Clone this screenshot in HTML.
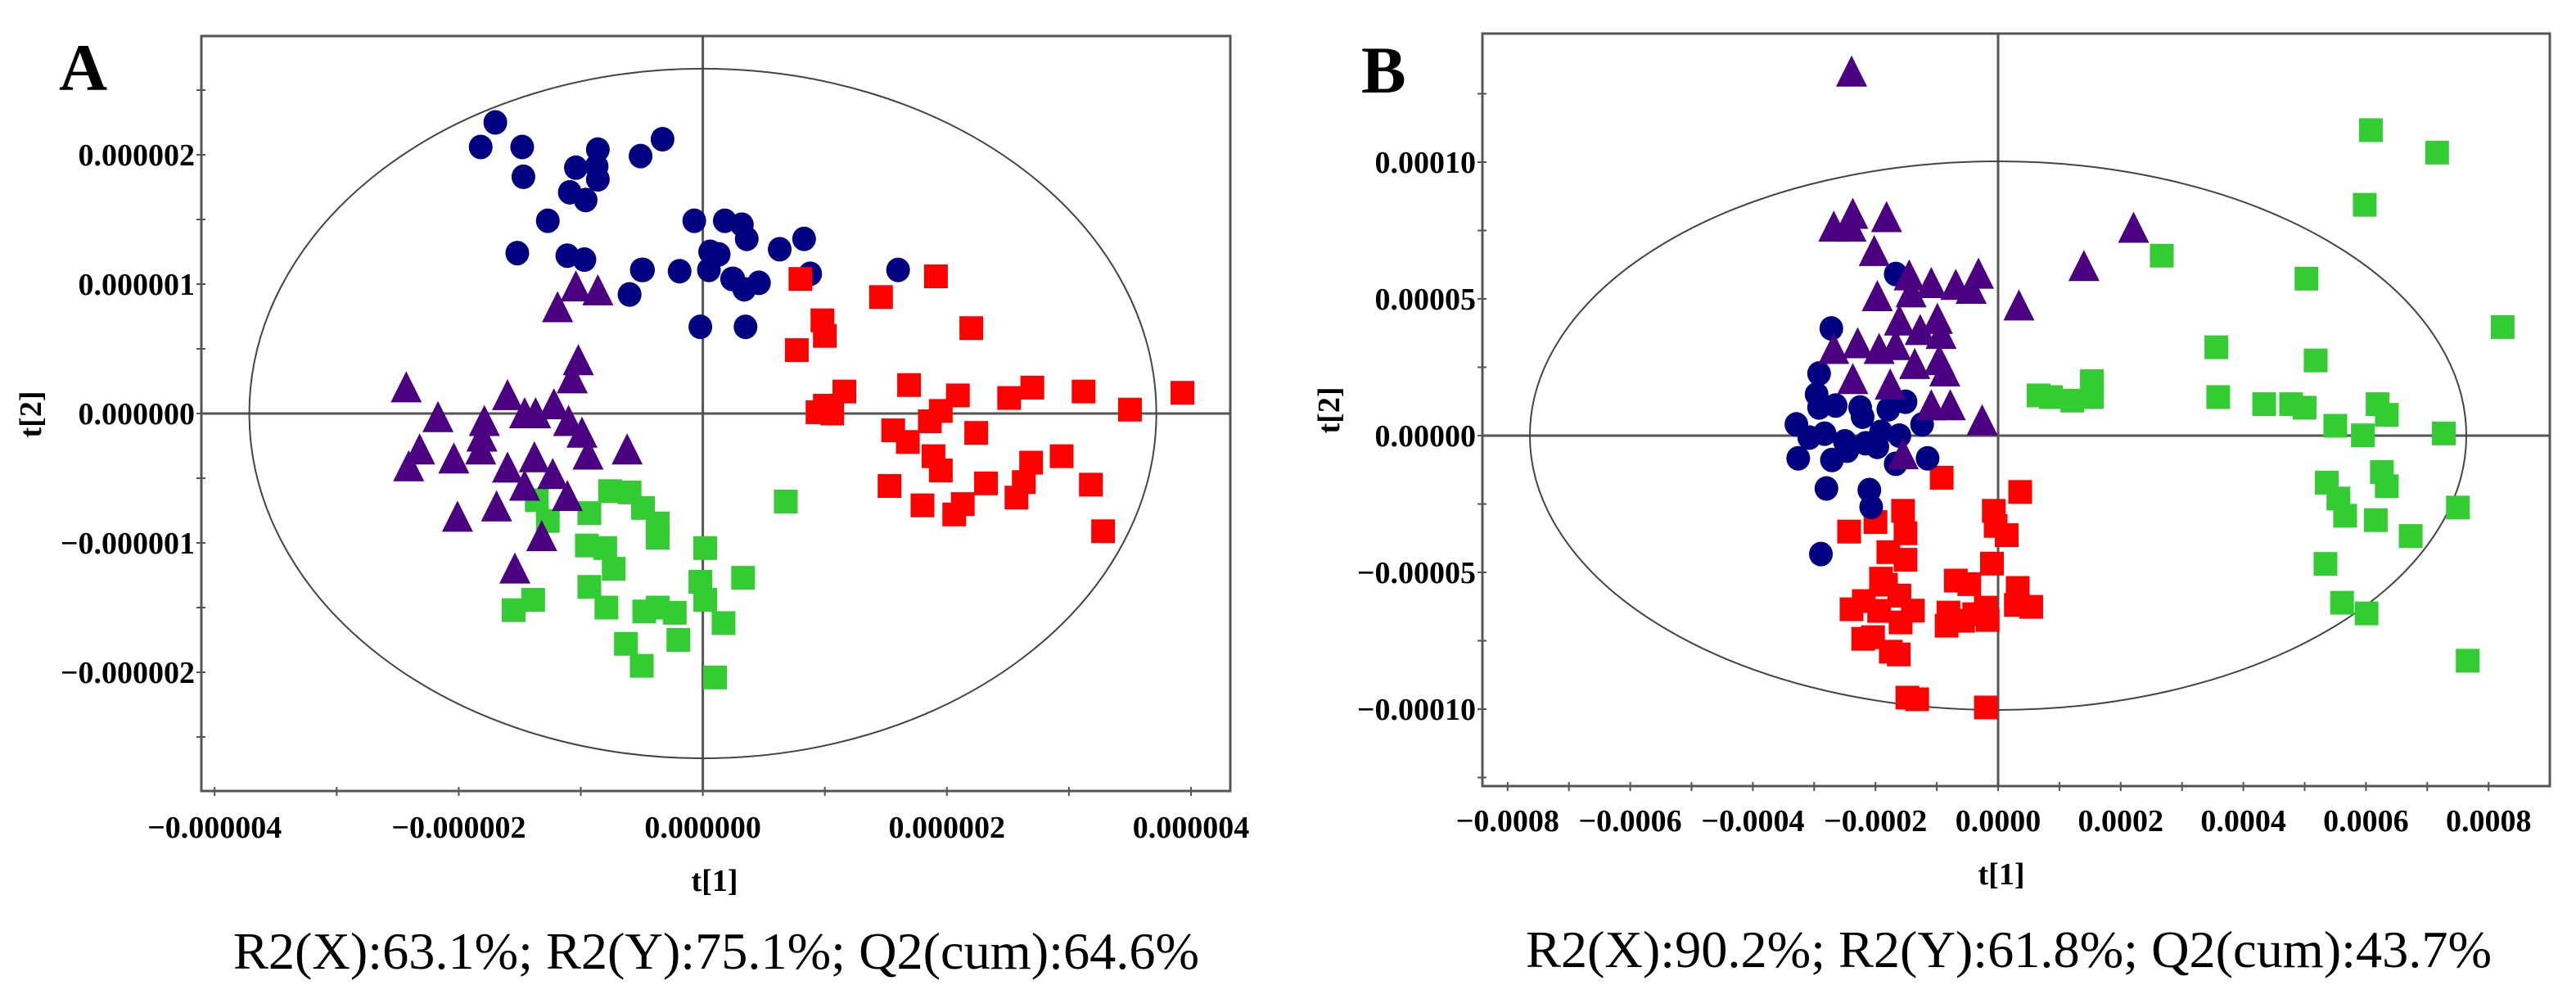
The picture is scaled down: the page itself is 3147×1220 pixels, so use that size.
<!DOCTYPE html>
<html><head><meta charset="utf-8">
<style>
html,body{margin:0;padding:0;background:#fff;}
svg{display:block;}
.tick{font-family:"Liberation Serif",serif;font-weight:bold;font-size:38px;fill:#000;}
.axt{font-family:"Liberation Serif",serif;font-weight:bold;font-size:38px;fill:#000;}
.cap{font-family:"Liberation Serif",serif;font-size:64px;fill:#000;}
.pl{font-family:"Liberation Serif",serif;font-weight:bold;font-size:82px;fill:#000;}
</style></head>
<body>
<svg id="fig" width="3147" height="1220" viewBox="0 0 3147 1220" xmlns="http://www.w3.org/2000/svg">
  <g id="panelA"></g>
  <g id="panelB"></g>
  <text class="pl" x="72" y="110">A</text>
  <text class="pl" x="1663" y="113">B</text>
  <text class="cap" x="285" y="1183" textLength="1180" lengthAdjust="spacingAndGlyphs">R2(X):63.1%; R2(Y):75.1%; Q2(cum):64.6%</text>
  <text class="cap" x="1864" y="1181" textLength="1180" lengthAdjust="spacingAndGlyphs">R2(X):90.2%; R2(Y):61.8%; Q2(cum):43.7%</text>
</svg>
<script>
// ---------- Panel A data (t[1], t[2] in units of 1e-6) ----------
const aNavyX=[-1.70,-1.82,-1.48,-1.47,-0.86,-1.04,-0.86,-0.87,-1.09,-0.96,-1.27,-0.51,-0.33,-1.52,-1.11,-0.97,-0.50,-0.60,-0.19,-0.07,0.18,0.32,0.36,0.06,0.13,0.05,0.25,0.34,0.46,-0.02,0.35,0.63,0.83,0.88,1.60,0.24,-0.49,-0.60];
const aNavyY=[2.25,2.06,2.06,1.83,2.04,1.90,1.81,1.91,1.71,1.65,1.49,1.99,2.12,1.24,1.22,1.19,1.11,0.92,1.10,1.49,1.49,1.46,1.35,1.25,1.23,1.11,1.04,0.96,1.01,0.67,0.67,1.27,1.35,1.08,1.11,1.04,1.11,0.92];
const aPurpleX=[-1.04,-0.86,-1.19,-1.02,-1.07,-2.43,-2.17,-1.79,-1.60,-1.46,-1.37,-1.22,-1.10,-0.99,-1.81,-1.82,-2.32,-2.41,-2.04,-1.60,-1.38,-0.94,-0.62,-1.23,-1.46,-1.11,-1.69,-2.01,-1.32,-1.54];
const aPurpleY=[0.98,0.95,0.82,0.41,0.27,0.20,-0.03,-0.06,0.14,0.00,0.00,0.07,-0.06,-0.15,-0.18,-0.28,-0.28,-0.41,-0.35,-0.42,-0.34,-0.32,-0.28,-0.47,-0.56,-0.64,-0.72,-0.80,-0.95,-1.20];
const aGreenX=[-1.36,-1.27,-0.76,-0.60,-0.93,-0.49,-0.37,-0.37,-0.95,-0.80,-0.73,-0.93,-0.79,-1.55,-1.39,0.02,0.33,-0.02,0.02,0.17,-0.48,-0.37,-0.23,-0.20,-0.63,-0.50,0.10,0.68];
const aGreenY=[-0.67,-0.83,-0.60,-0.61,-0.77,-0.73,-0.85,-0.96,-1.02,-1.04,-1.20,-1.34,-1.50,-1.52,-1.44,-1.04,-1.27,-1.30,-1.44,-1.62,-1.53,-1.50,-1.54,-1.75,-1.78,-1.95,-2.04,-0.68];
const aRedX=[0.80,1.91,1.46,2.20,0.98,1.00,0.77,1.16,1.00,0.94,1.06,1.69,2.09,1.95,1.86,1.56,1.68,1.89,1.95,2.24,2.51,2.70,3.12,3.50,3.93,2.94,2.69,2.63,2.57,2.32,2.13,2.06,1.80,1.53,3.18,3.28];
const aRedY=[1.04,1.06,0.90,0.66,0.72,0.60,0.49,0.17,0.06,0.01,0.00,0.22,0.14,0.02,-0.06,-0.13,-0.22,-0.33,-0.44,-0.15,0.12,0.20,0.17,0.03,0.16,-0.33,-0.38,-0.53,-0.65,-0.54,-0.70,-0.78,-0.71,-0.56,-0.55,-0.91];
const aXTicks=[-4,-3,-2,-1,0,1,2,3,4];
const aXLabels=["\u22120.000004","\u22120.000002","0.000000","0.000002","0.000004"];
const aXLabelVals=[-4,-2,0,2,4];
const aYTicks=[-2.5,-2,-1.5,-1,-0.5,0,0.5,1,1.5,2,2.5];
const aYLabels=["\u22120.000002","\u22120.000001","0.000000","0.000001","0.000002"];
const aYLabelVals=[-2,-1,0,1,2];
const aEllipse=[3.716,2.665];

// ---------- Panel B data (t[1] in 1e-4, t[2] in 1e-5) ----------
const bNavyX=[-2.72,-1.67,-2.92,-2.96,-2.92,-2.65,-2.25,-2.21,-3.29,-3.08,-2.83,-2.50,-2.16,-1.91,-1.61,-1.79,-1.51,-1.24,-1.15,-1.67,-3.26,-2.71,-2.80,-2.10,-2.07,-2.89,-1.97,-2.46];
const bNavyY=[3.92,5.91,2.27,1.51,1.03,1.10,1.03,0.69,0.41,-0.07,0.07,-0.21,-0.28,0.14,0.00,0.96,1.24,0.41,-0.83,-1.03,-0.83,-0.89,-1.93,-1.99,-2.61,-4.33,-0.41,-0.55];
const bPurpleX=[-2.39,-2.68,-2.37,-1.82,-2.40,-2.02,-1.45,-1.09,-0.69,-0.32,-0.44,-1.97,-1.42,-1.61,-1.27,-0.99,-0.93,-2.68,-2.29,-1.94,-1.67,-1.36,-0.96,-0.87,-2.37,-1.76,-1.09,-0.78,-0.26,-1.55,0.34,1.40,2.21];
const bPurpleY=[13.3,7.63,8.10,7.98,7.63,6.74,5.85,5.57,5.50,5.91,5.36,5.09,5.23,4.20,3.85,4.26,3.71,3.16,3.37,3.16,3.30,2.61,2.75,2.34,2.06,1.86,1.10,1.10,0.55,-0.69,4.75,6.19,7.59];
const bRedX=[-0.92,0.36,-1.55,-0.07,-2.43,-2.00,-1.51,0.14,-0.04,-1.79,-1.51,-0.10,-1.91,-0.69,-0.47,0.32,-2.19,-1.61,-1.39,-0.81,-0.17,0.54,0.29,-2.04,-2.39,-1.94,-1.59,-1.75,-1.62,-0.84,-0.57,-0.39,-0.20,-0.20,-1.32,-1.48,-2.20,-1.83];
const bRedY=[-1.54,-2.06,-2.75,-2.75,-3.51,-3.16,-3.57,-3.64,-3.30,-4.26,-4.54,-4.68,-5.23,-5.30,-5.43,-5.57,-6.05,-5.85,-6.40,-6.47,-6.74,-6.26,-6.19,-7.37,-6.35,-6.41,-6.83,-7.90,-8.00,-6.95,-6.77,-6.53,-6.29,-9.94,-9.64,-9.58,-7.43,-5.45];
const bGreenX=[0.66,0.86,1.21,1.53,1.53,6.08,7.16,5.98,2.67,5.03,8.23,3.56,5.18,3.59,4.34,4.78,5.00,5.50,5.95,6.19,6.34,7.27,6.26,6.34,5.36,5.55,5.66,6.16,6.73,7.50,5.34,5.61,6.01,7.66];
const bGreenY=[1.47,1.41,1.28,1.99,1.41,11.17,10.35,8.44,6.58,5.74,3.97,3.23,2.75,1.41,1.15,1.15,1.02,0.36,0.01,1.15,0.76,0.08,-1.33,-1.85,-1.72,-2.30,-2.93,-3.09,-3.67,-2.63,-4.69,-6.11,-6.50,-8.23];
const bXTicks=[-8,-7,-6,-5,-4,-3,-2,-1,0,1,2,3,4,5,6,7,8];
const bXLabels=["\u22120.0008","\u22120.0006","\u22120.0004","\u22120.0002","0.0000","0.0002","0.0004","0.0006","0.0008"];
const bXLabelVals=[-8,-6,-4,-2,0,2,4,6,8];
const bYTicks=[-12.5,-10,-7.5,-5,-2.5,0,2.5,5,7.5,10,12.5];
const bYLabels=["\u22120.00010","\u22120.00005","0.00000","0.00005","0.00010"];
const bYLabelVals=[-10,-5,0,5,10];
const bEllipse=[7.637,10.03];

const NS="http://www.w3.org/2000/svg";
function mk(parent,tag,attrs){const e=document.createElementNS(NS,tag);for(const k in attrs)e.setAttribute(k,attrs[k]);parent.appendChild(e);return e;}

function panel(g,cfg){
  const sx=v=>cfg.x0+v*cfg.kx, sy=v=>cfg.y0-v*cfg.ky;
  const fr=mk(g,'rect',{x:cfg.L,y:cfg.T,width:cfg.R-cfg.L,height:cfg.B-cfg.T,fill:'none',stroke:'#555','stroke-width':3});
  
  
  const vl=mk(g,'line',{x1:sx(0),x2:sx(0),y1:cfg.T,y2:cfg.B,stroke:'#555','stroke-width':3});
  
  
  const hl=mk(g,'line',{x1:cfg.L,x2:cfg.R,y1:sy(0),y2:sy(0),stroke:'#555','stroke-width':3});
  
  
  const el=mk(g,'ellipse',{cx:sx(0),cy:sy(0),rx:cfg.ell[0]*cfg.kx,ry:cfg.ell[1]*cfg.ky,fill:'none',stroke:'#444','stroke-width':2});
  
  
  cfg.xt.forEach(v=>{const t=mk(g,'line',{x1:sx(v),x2:sx(v),y1:cfg.B-5,y2:cfg.B+6,stroke:'#555','stroke-width':2});
    
    });
  cfg.yt.forEach(v=>{const t=mk(g,'line',{x1:cfg.L-6,x2:cfg.L+5,y1:sy(v),y2:sy(v),stroke:'#555','stroke-width':2});
    
    });
  cfg.xl.forEach((s,i)=>{const t=mk(g,'text',{x:sx(cfg.xlv[i]),y:cfg.xlY,'text-anchor':'middle',class:'tick'});t.textContent=s;
    
    });
  cfg.yl.forEach((s,i)=>{const t=mk(g,'text',{x:cfg.L-8,y:sy(cfg.ylv[i])+13,'text-anchor':'end',class:'tick'});t.textContent=s;
    
    });
  const xa=mk(g,'text',{x:cfg.xtX,y:cfg.xtY,'text-anchor':'middle',class:'axt'});xa.textContent='t[1]';
  
  
  const ya=mk(g,'text',{x:0,y:0,'text-anchor':'middle',class:'axt',transform:`translate(${cfg.ytX},${cfg.ytY}) rotate(-90)`});ya.textContent='t[2]';
  
  
  // markers
  const sq=(X,Y,c)=>{for(let i=0;i<X.length;i++){const m=mk(g,'rect',{x:sx(X[i])-14.5,y:sy(Y[i])-14.5,width:29,height:29,fill:c});
    
    }};
  const ci=(X,Y,c)=>{for(let i=0;i<X.length;i++){const m=mk(g,'ellipse',{cx:sx(X[i]),cy:sy(Y[i]),rx:14.5,ry:15,fill:c});
    
    }};
  const tr=(X,Y,c)=>{for(let i=0;i<X.length;i++){const x=sx(X[i]),y=sy(Y[i]);
    const m=mk(g,'polygon',{points:`${x},${y-20} ${x-19},${y+18} ${x+19},${y+18}`,fill:c});
    
    }};
  cfg.draw(sq,ci,tr);
}

panel(document.getElementById('panelA'),{
  L:246,T:44,R:1503,B:966,x0:858.6,kx:149.1,y0:505,ky:158,ell:aEllipse,
  xt:aXTicks,yt:aYTicks,xl:aXLabels,xlv:aXLabelVals,yl:aYLabels,ylv:aYLabelVals,
  xlY:1023,xtX:873,xtY:1088,ytX:50,ytY:506,
  draw:(sq,ci,tr)=>{sq(aGreenX,aGreenY,'#33cc33');tr(aPurpleX,aPurpleY,'#4b0082');ci(aNavyX,aNavyY,'#000080');sq(aRedX,aRedY,'#ff0000');}
});
panel(document.getElementById('panelB'),{
  L:1811,T:41,R:3115,B:960,x0:2441,kx:74.9,y0:532,ky:33.4,ell:bEllipse,
  xt:bXTicks,yt:bYTicks,xl:bXLabels,xlv:bXLabelVals,yl:bYLabels,ylv:bYLabelVals,
  xlY:1015,xtX:2445,xtY:1080,ytX:1636,ytY:501,
  draw:(sq,ci,tr)=>{sq(bRedX,bRedY,'#ff0000');sq(bGreenX,bGreenY,'#33cc33');ci(bNavyX,bNavyY,'#000080');tr(bPurpleX,bPurpleY,'#4b0082');}
});
</script>
</body></html>
